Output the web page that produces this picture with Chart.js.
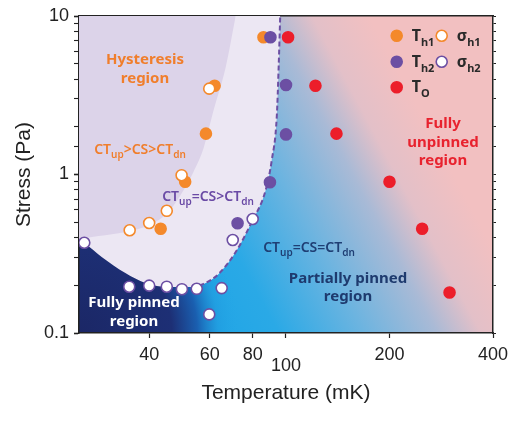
<!DOCTYPE html>
<html>
<head>
<meta charset="utf-8">
<script src="https://cdn.jsdelivr.net/npm/chart.js@4.4.1/dist/chart.umd.min.js"></script>
<style>
  html, body { margin: 0; padding: 0; background: #fff; }
  canvas { display: block; }
</style>
</head>
<body>
<canvas id="chart" width="529" height="422"></canvas>
<script>
// data (temperature in mK, stress in Pa)
const th1T = [86, 62, 58.5, 50.9, 43.2];
const th1S = [7.35, 3.63, 1.81, 0.90, 0.455];
const sh1T = [59.8, 49.7, 45, 40, 35.1];
const sh1S = [3.48, 0.99, 0.59, 0.494, 0.445];
const th2T = [90.1, 100, 100, 89.8, 72.3];
const th2S = [7.35, 3.67, 1.79, 0.893, 0.492];
const sh2T = [25.9, 35, 40, 45, 49.8, 55, 65, 59.8, 70, 80];
const sh2S = [0.371, 0.196, 0.199, 0.196, 0.189, 0.19, 0.192, 0.131, 0.386, 0.524];
const toT = [101.4, 121.8, 140.2, 200, 248.9, 299];
const toS = [7.35, 3.63, 1.81, 0.90, 0.455, 0.18];

// region borders
const boundT = [25, 26.1, 29.1, 34.1, 39.0, 45.5, 53.1, 57.6, 63.7, 71.4, 79.5, 87.3, 90.9, 94.0, 95.2, 96.2];
const boundS = [0.380, 0.364, 0.302, 0.239, 0.207, 0.195, 0.195, 0.204, 0.236, 0.324, 0.502, 0.798, 1.23, 2.31, 4.77, 10];
const innerT = [25, 28.5, 34.1, 40.0, 45.5, 50.4, 53.8, 57.6, 61.6, 66.8, 71.4];
const innerS = [0.392, 0.409, 0.434, 0.480, 0.580, 0.798, 1.037, 1.47, 2.55, 4.77, 10];
const dashFrom = 53; // dashed border only drawn from here on

const xTicks = [40, 60, 80, 100, 200, 400];
const yLabels = [0.1, 1, 10];

const ORANGE = '#f4892b', PURPLE = '#6c4fa3', RED = '#ec1e2a';

function pts(xs, ys) {
  return xs.map((x, i) => ({ x: x, y: ys[i] }));
}

function drawRich(ctx, parts, x, y, size, weight, color) {
  const sub = Math.round(size * 0.7);
  const fonts = parts.map(p => weight + ' ' + (p[1] ? sub : size) + 'px "Noto Sans"');
  let w = 0;
  const ws = parts.map((p, i) => { ctx.font = fonts[i]; const m = ctx.measureText(p[0]).width; w += m; return m; });
  let cx = x - w / 2;
  ctx.fillStyle = color;
  ctx.textAlign = 'left';
  ctx.textBaseline = 'alphabetic';
  parts.forEach((p, i) => {
    ctx.font = fonts[i];
    ctx.fillText(p[0], cx, p[1] ? y + size * 0.3 : y);
    cx += ws[i];
  });
}

const bgPlugin = {
  id: 'bg',
  beforeDraw(chart) {
    const { ctx, chartArea: a } = chart;
    ctx.save();
    ctx.beginPath();
    ctx.rect(a.left, a.top, a.width, a.height);
    ctx.clip();
    // blue -> pink along the diagonal
    const cx = a.left + a.width * 0.741, cy = a.top + a.height * 0.5;
    const nx = 0.88, ny = -0.47;
    const g = ctx.createLinearGradient(cx - 220 * nx, cy - 220 * ny, cx + 60 * nx, cy + 60 * ny);
    g.addColorStop(0, '#22a6e6');
    g.addColorStop(0.18, '#2aa9e6');
    g.addColorStop(0.45, '#6cb4e0');
    g.addColorStop(0.68, '#a9bad6');
    g.addColorStop(0.82, '#e3c0c8');
    g.addColorStop(1, '#f2c0c1');
    ctx.fillStyle = g;
    ctx.fillRect(a.left, a.top, a.width, a.height);
    // dark corner
    const r = ctx.createRadialGradient(a.left, a.bottom, 0, a.left, a.bottom, 160);
    r.addColorStop(0, '#1b2766');
    r.addColorStop(0.58, '#1d2f75');
    r.addColorStop(0.74, '#1a5fb0');
    r.addColorStop(0.87, 'rgba(32,154,222,0.6)');
    r.addColorStop(1, 'rgba(36,166,230,0)');
    ctx.fillStyle = r;
    ctx.fillRect(a.left, a.top, a.width, a.height);
    ctx.restore();
  }
};

const textPlugin = {
  id: 'texts',
  afterDatasetsDraw(chart) {
    const ctx = chart.ctx;
    ctx.save();
    drawRich(ctx, [['Hysteresis']], 145, 64, 15, 'bold', '#f07e2c');
    drawRich(ctx, [['region']], 145, 83, 15, 'bold', '#f07e2c');
    drawRich(ctx, [['CT'], ['up', 1], ['>CS>CT'], ['dn', 1]], 140, 154, 14, '600', '#f07e2c');
    drawRich(ctx, [['CT'], ['up', 1], ['=CS>CT'], ['dn', 1]], 208, 201, 14, '600', '#6a4aa5');
    drawRich(ctx, [['CT'], ['up', 1], ['=CS=CT'], ['dn', 1]], 309, 252, 14, '600', '#1f3f74');
    drawRich(ctx, [['Partially pinned']], 348, 283, 15, 'bold', '#1e3a6e');
    drawRich(ctx, [['region']], 348, 301, 15, 'bold', '#1e3a6e');
    drawRich(ctx, [['Fully pinned']], 134, 307, 15, 'bold', '#ffffff');
    drawRich(ctx, [['region']], 134, 326, 15, 'bold', '#ffffff');
    drawRich(ctx, [['Fully']], 443, 128, 15, 'bold', '#e8222e');
    drawRich(ctx, [['unpinned']], 443, 147, 15, 'bold', '#e8222e');
    drawRich(ctx, [['region']], 443, 165, 15, 'bold', '#e8222e');

    // legend
    const items = [
      [396.7, 35.7, ORANGE, ORANGE, 'T', 'h1'],
      [441.7, 35.7, '#ffffff', ORANGE, 'σ', 'h1'],
      [396.7, 61.7, PURPLE, PURPLE, 'T', 'h2'],
      [441.7, 61.7, '#ffffff', PURPLE, 'σ', 'h2'],
      [396.7, 87.3, RED, RED, 'T', 'O']
    ];
    items.forEach(it => {
      ctx.beginPath();
      ctx.arc(it[0], it[1], 5.5, 0, Math.PI * 2);
      ctx.fillStyle = it[2];
      ctx.fill();
      ctx.lineWidth = 1.6;
      ctx.strokeStyle = it[3];
      ctx.stroke();
      ctx.fillStyle = '#2a2a2a';
      ctx.textAlign = 'left';
      ctx.font = 'bold 16px "Noto Sans"';
      const tx = it[0] + 15;
      ctx.fillText(it[4], tx, it[1] + 5);
      const w = ctx.measureText(it[4]).width;
      ctx.font = 'bold 11px "Noto Sans"';
      ctx.fillText(it[5], tx + w, it[1] + 10);
    });
    ctx.restore();
  }
};

function isMajor(v) {
  const l = Math.log10(v);
  return Math.abs(l - Math.round(l)) < 1e-6;
}

const pointStyle = (fill, line) => ({
  backgroundColor: fill,
  borderColor: line,
  borderWidth: 1.6,
  pointRadius: 5.5,
  pointHoverRadius: 5.5
});

const boundPts = pts(boundT, boundS);

new Chart(document.getElementById('chart'), {
  type: 'scatter',
  data: {
    datasets: [
      Object.assign({ label: 'σh1', data: pts(sh1T, sh1S) }, pointStyle('#ffffff', ORANGE)),
      Object.assign({ label: 'σh2', data: pts(sh2T, sh2S) }, pointStyle('#ffffff', PURPLE)),
      Object.assign({ label: 'Th2', data: pts(th2T, th2S) }, pointStyle(PURPLE, PURPLE)),
      Object.assign({ label: 'Th1', data: pts(th1T, th1S) }, pointStyle(ORANGE, ORANGE)),
      Object.assign({ label: 'TO', data: pts(toT, toS) }, pointStyle(RED, RED)),
      {
        type: 'line',
        label: 'dashed border',
        data: boundPts.filter(p => p.x >= dashFrom),
        fill: false,
        borderColor: PURPLE,
        borderDash: [5, 3],
        borderWidth: 2,
        pointRadius: 0,
        cubicInterpolationMode: 'monotone'
      },
      {
        type: 'line',
        label: 'inner',
        data: pts(innerT, innerS),
        fill: 'end',
        backgroundColor: '#dcd3e9',
        borderWidth: 0,
        borderColor: 'rgba(0,0,0,0)',
        pointRadius: 0,
        cubicInterpolationMode: 'monotone'
      },
      {
        type: 'line',
        label: 'boundary',
        data: boundPts,
        fill: 'end',
        backgroundColor: '#ece7f3',
        borderWidth: 0,
        borderColor: 'rgba(0,0,0,0)',
        pointRadius: 0,
        cubicInterpolationMode: 'monotone'
      }
    ]
  },
  options: {
    responsive: false,
    animation: false,
    layout: { padding: 0 },
    plugins: {
      legend: { display: false },
      tooltip: { enabled: false }
    },
    scales: {
      x: {
        type: 'logarithmic',
        position: 'bottom',
        min: 25,
        max: 400,
        z: 1,
        afterBuildTicks: s => { s.ticks = xTicks.map(v => ({ value: v })); },
        afterFit: s => { s.height = 89; },
        grid: { drawOnChartArea: false, tickLength: 5, tickColor: '#222', tickWidth: 1.2 },
        border: { color: '#222', width: 1.5 },
        ticks: {
          padding: 6,
          color: '#222',
          maxRotation: 0,
          autoSkip: false,
          font: c => ({ family: '"Liberation Sans", Arial, sans-serif', size: 18, lineHeight: c.tick && c.tick.value === 100 ? 0.81 : 1.2 }),
          callback: v => v === 100 ? ['', '100'] : String(v)
        },
        title: {
          display: true,
          text: 'Temperature (mK)',
          color: '#222',
          font: { family: '"Liberation Sans", Arial, sans-serif', size: 21 },
          padding: { top: 0, bottom: 16 }
        }
      },
      x2: {
        type: 'logarithmic',
        position: 'top',
        min: 25,
        max: 400,
        z: 1,
        afterFit: s => { s.height = 16; },
        grid: { display: false },
        border: { color: '#222', width: 1.5 },
        ticks: { display: false }
      },
      y: {
        type: 'logarithmic',
        position: 'left',
        min: 0.1,
        max: 10,
        z: 1,
        afterFit: s => { s.width = 79; },
        grid: {
          drawOnChartArea: false,
          tickLength: 5,
          tickColor: '#222',
          tickWidth: c => c.tick && isMajor(c.tick.value) ? 1.6 : 1.1
        },
        border: { color: '#222', width: 1.5 },
        ticks: {
          padding: 5,
          color: '#222',
          autoSkip: false,
          font: { family: '"Liberation Sans", Arial, sans-serif', size: 18 },
          callback: v => {
            const hit = yLabels.find(l => Math.abs(l - v) < 1e-9);
            return hit === undefined ? '' : String(hit);
          }
        },
        title: {
          display: true,
          text: 'Stress (Pa)',
          color: '#222',
          font: { family: '"Liberation Sans", Arial, sans-serif', size: 21 },
          padding: { top: 12, bottom: 0 }
        }
      },
      y2: {
        type: 'logarithmic',
        position: 'right',
        min: 0.1,
        max: 10,
        z: 1,
        afterFit: s => { s.width = 36; },
        grid: { drawOnChartArea: false, tickLength: 3, tickColor: '#222' },
        border: { color: '#222', width: 1.5 },
        ticks: { display: false, autoSkip: false }
      }
    }
  },
  plugins: [bgPlugin, textPlugin]
});
</script>
</body>
</html>
